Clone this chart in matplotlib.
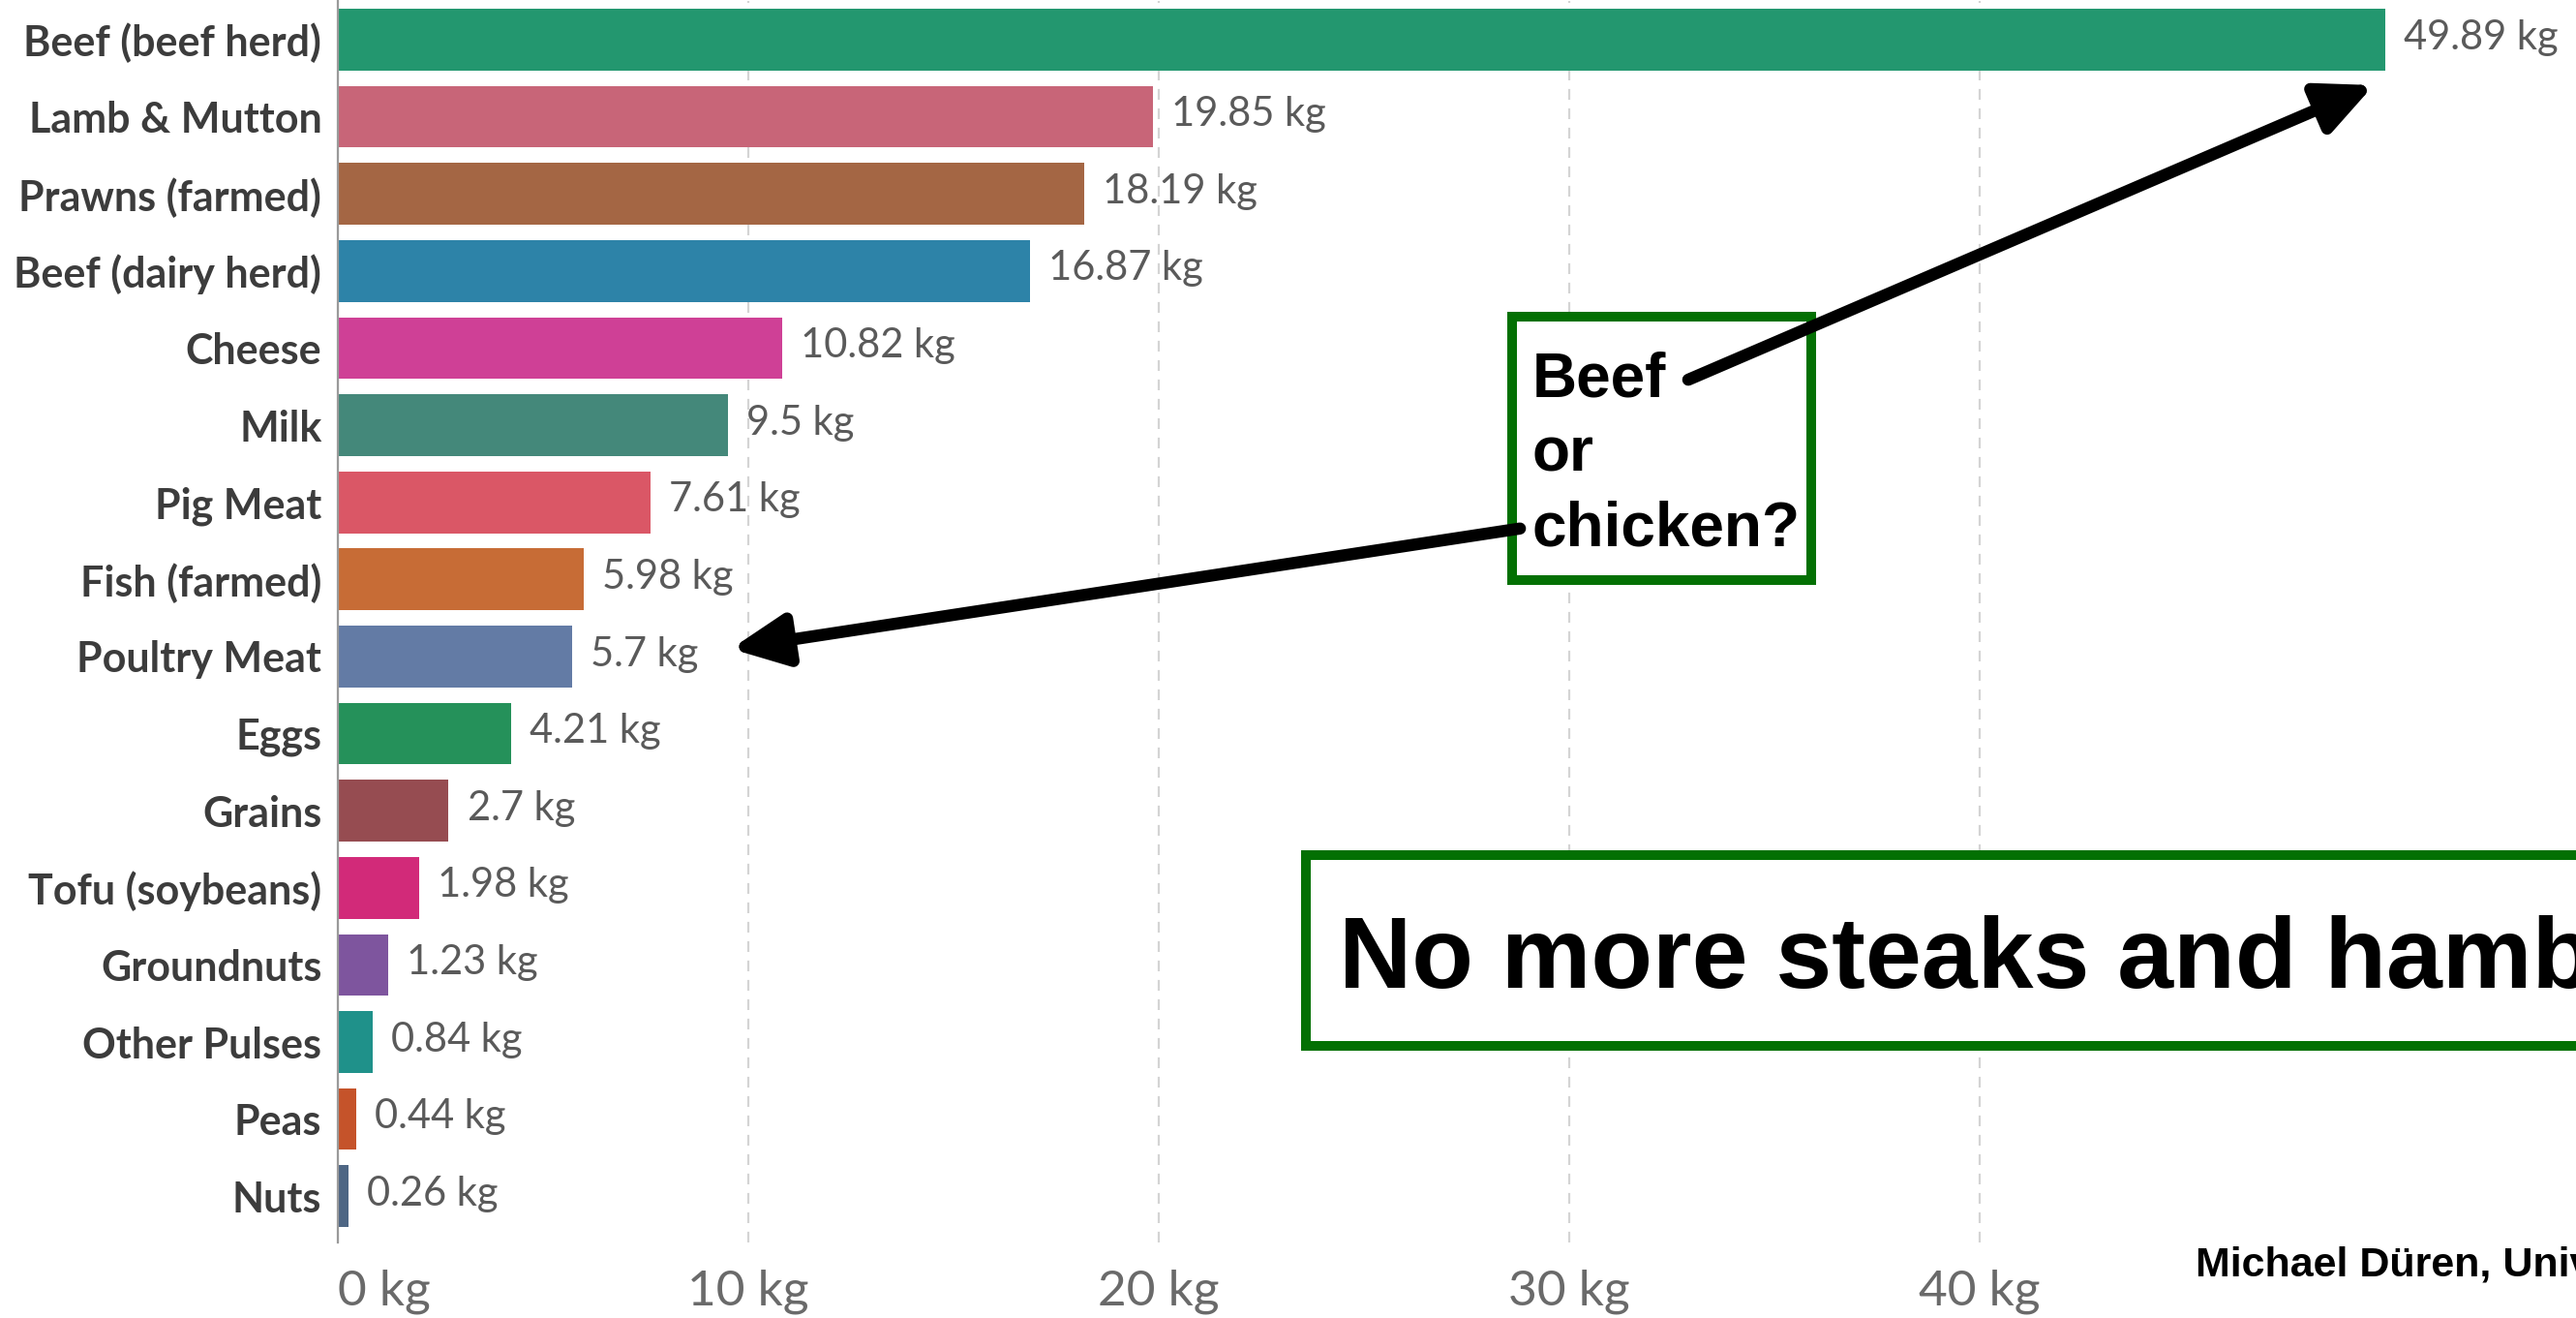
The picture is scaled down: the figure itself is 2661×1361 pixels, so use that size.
import matplotlib.pyplot as plt
from matplotlib.patches import Rectangle, FancyArrowPatch

foods = ["Beef (beef herd)", "Lamb & Mutton", "Prawns (farmed)", "Beef (dairy herd)",
         "Cheese", "Milk", "Pig Meat", "Fish (farmed)", "Poultry Meat", "Eggs",
         "Grains", "Tofu (soybeans)", "Groundnuts", "Other Pulses", "Peas", "Nuts"]
emissions = [49.89, 19.85, 18.19, 16.87, 10.82, 9.5, 7.61, 5.98, 5.7, 4.21,
             2.7, 1.98, 1.23, 0.84, 0.44, 0.26]
colors = ["#23976f", "#c86578", "#a46644", "#2d83a8", "#cf4096", "#44887a",
          "#da5766", "#c76c36", "#637ba5", "#25915a", "#964c51", "#d22a79",
          "#7e559e", "#1f918a", "#c5532a", "#4e6684"]
xticks = [0, 10, 20, 30, 40]

W, H = 2661, 1361
fig = plt.figure(figsize=(W / 100, H / 100), dpi=100)
ax = fig.add_axes([349 / W, 1 - 1283 / H, 2120 / W, (1283 - 1.2) / H])

y = list(range(len(foods)))
ax.barh(y, emissions, height=0.8, color=colors, zorder=2)
ax.set_xlim(0, 50)
ax.set_ylim(15.6, -0.5)

for yi, v in zip(y, emissions):
    ax.text(v + 0.45, yi - 0.03, f"{v:g} kg", va="center", ha="left",
            fontsize=30, family="Lato", color="#5a5a5a")

ax.set_yticks(y)
ax.set_yticklabels(foods, family="Lato", fontsize=31, fontweight="bold", color="#3c3c3c")
ax.set_xticks(xticks)
ax.set_xticklabels([f"{t} kg" for t in xticks], family="Lato", fontsize=37, color="#6a6a6a")
ax.get_xticklabels()[0].set_horizontalalignment("left")
ax.tick_params(axis="y", length=0, pad=12)
ax.tick_params(axis="x", length=0, pad=20)

for s in ["top", "right", "bottom"]:
    ax.spines[s].set_visible(False)
ax.spines["left"].set_color("#9a9a9a")
ax.spines["left"].set_linewidth(1.6)
ax.spines["left"].set_zorder(3)
ax.grid(axis="x", color="#d4d4d4", linestyle=(0, (5, 4)), linewidth=1.6, zorder=0)
ax.grid(axis="y", visible=False)
ax.set_axisbelow(True)

green = "#037003"

# "Beef or chicken?" callout
ax.add_patch(Rectangle((28.6, 3.59), 35.9 - 28.6, 7.01 - 3.59, fill=True,
                       facecolor="white", edgecolor=green, linewidth=7.2, zorder=4))
ax.text(29.1, 6.56, "Beef\nor\nchicken?", family="Liberation Sans", fontweight="bold",
        fontsize=46, color="black", va="baseline", ha="left", linespacing=1.36, zorder=5)

arrow_kw = dict(arrowstyle="-|>,head_length=34,head_width=16", mutation_scale=1,
                color="black", linewidth=9, shrinkA=0, shrinkB=0, zorder=6)
ax.add_patch(FancyArrowPatch((32.9, 4.41), (49.6, 0.59), **arrow_kw))
ax.add_patch(FancyArrowPatch((28.8, 6.34), (9.58, 7.90), **arrow_kw))

# bottom message box, runs off the right edge
ax.add_patch(Rectangle((23.58, 10.57), 40, 13.05 - 10.57, fill=True, facecolor="white",
                       edgecolor=green, linewidth=7.2, zorder=4, clip_on=False))
ax.text(24.39, 12.30, "No more steaks and hamburgers!", family="Liberation Sans",
        fontweight="bold", fontsize=75, color="black", va="baseline", ha="left",
        zorder=5, clip_on=False)

fig.text(2268 / W, 1 - 1318 / H, "Michael Düren, Univ. Gießen", family="Liberation Sans",
         fontweight="bold", fontsize=31, color="black", va="baseline", ha="left")

fig.savefig("out.png", dpi=100, facecolor="white")
